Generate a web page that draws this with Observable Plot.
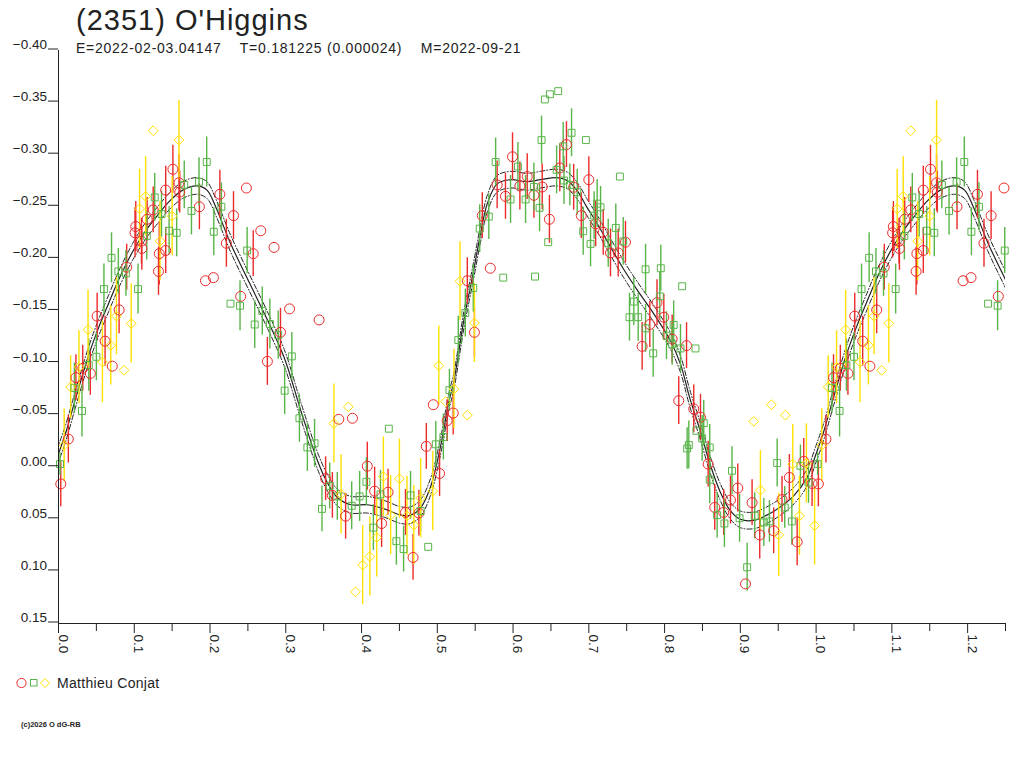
<!DOCTYPE html>
<html>
<head>
<meta charset="utf-8">
<script src="https://cdn.jsdelivr.net/npm/d3@7"></script>
<script src="https://cdn.jsdelivr.net/npm/@observablehq/plot@0.6"></script>
<style>
  html, body { margin: 0; padding: 0; background: #fff; }
  #wrap { position: relative; width: 1024px; height: 768px; overflow: hidden; font-family: "Liberation Sans", Arial, sans-serif; }
  #chart { position: absolute; left: 0; top: 0; }
  #overlay { position: absolute; left: 0; top: 0; pointer-events: none; }
</style>
</head>
<body>
<div id="wrap">
  <div id="chart"></div>
  <svg id="overlay" width="1024" height="768" font-family="Liberation Sans, Arial, sans-serif">
    <text x="76" y="30" font-size="29" fill="#222" letter-spacing="1">(2351) O'Higgins</text>
    <text x="76" y="53" font-size="14" fill="#222" letter-spacing="0.75" xml:space="preserve">E=2022-02-03.04147    T=0.181225 (0.000024)    M=2022-09-21</text>
    <circle cx="21.5" cy="683" r="4.6" fill="none" stroke="#ec2a2a" stroke-width="1"/>
    <rect x="30.5" y="679.5" width="6.5" height="6.5" fill="none" stroke="#58b548" stroke-width="1"/>
    <polygon points="45,678.5 49.5,683 45,687.5 40.5,683" fill="none" stroke="#ffe000" stroke-width="1"/>
    <text x="57" y="688" font-size="14" fill="#222" letter-spacing="0.3">Matthieu Conjat</text>
    <text x="21" y="727" font-size="7.5" fill="#222" font-weight="bold">(c)2026 O dG-RB</text>
  </svg>
</div>
<script>
// ---- axis ticks ----
const xMajorTicks = [0.0, 0.1, 0.2, 0.3, 0.4, 0.5, 0.6, 0.7, 0.8, 0.9, 1.0, 1.1, 1.2];
const xMinorTicks = [0.05, 0.15, 0.25, 0.35, 0.45, 0.55, 0.65, 0.75, 0.85, 0.95, 1.05, 1.15, 1.25];
const yTicks = [-0.40, -0.35, -0.30, -0.25, -0.20, -0.15, -0.10, -0.05, 0.00, 0.05, 0.10, 0.15];

// ---- observations: [phase, relative magnitude, error] ----
const redObs = [
  [0.003, 0.016, 0.022], [0.013, -0.027, 0.023], [0.023, -0.086, 0.022], [0.032, -0.095, 0.022],
  [0.042, -0.090, 0.021], [0.051, -0.145, 0.022], [0.0615, -0.121, 0.024], [0.071, -0.097, 0],
  [0.080, -0.151, 0.023], [0.090, -0.192, 0.022], [0.101, -0.225, 0.024], [0.102, -0.231, 0.024],
  [0.110, -0.210, 0.021], [0.1095, -0.217, 0.022], [0.117, -0.238, 0.021], [0.125, -0.247, 0.022],
  [0.133, -0.205, 0.030], [0.132, -0.188, 0.023], [0.1415, -0.208, 0.022], [0.1415, -0.266, 0.023],
  [0.151, -0.286, 0.023], [0.159, -0.273, 0.027], [0.160, -0.264, 0.020], [0.186, -0.250, 0.022],
  [0.194, -0.179, 0], [0.2045, -0.182, 0], [0.213, -0.262, 0.023], [0.231, -0.2415, 0.023],
  [0.2216, -0.215, 0.023], [0.248, -0.268, 0], [0.2405, -0.164, 0], [0.257, -0.205, 0.022],
  [0.267, -0.227, 0], [0.2845, -0.211, 0], [0.305, -0.152, 0], [0.293, -0.1295, 0.023],
  [0.2757, -0.1016, 0.023], [0.344, -0.1414, 0], [0.370, -0.046, 0], [0.388, -0.047, 0],
  [0.4947, -0.060, 0], [0.513, -0.0447, 0.020], [0.4855, -0.020, 0.022], [0.503, 0.006, 0.022],
  [0.3526, 0.011, 0.021], [0.3615, 0.027, 0.022], [0.379, 0.047, 0.022], [0.4076, -0.001, 0.023],
  [0.4173, 0.023, 0.023], [0.435, 0.024, 0.022], [0.4265, 0.054, 0.023], [0.468, 0.0866, 0.022],
  [0.458, 0.0434, 0.022], [0.4757, 0.044, 0.022],
  [0.521, -0.052, 0.021], [0.549, -0.1295, 0.024], [0.5396, -0.179, 0.022], [0.570, -0.191, 0],
  [0.5594, -0.2415, 0.022], [0.579, -0.271, 0.023], [0.590, -0.260, 0.022], [0.5993, -0.298, 0.023],
  [0.609, -0.270, 0.023], [0.6187, -0.279, 0.022], [0.6275, -0.261, 0.022], [0.6385, -0.269, 0.022],
  [0.648, -0.238, 0.023], [0.6617, -0.2873, 0.023], [0.6705, -0.3097, 0.022], [0.680, -0.2687, 0.022],
  [0.700, -0.276, 0.022], [0.690, -0.2415, 0.022], [0.709, -0.2336, 0.022], [0.719, -0.2255, 0.022],
  [0.7286, -0.2057, 0.023], [0.7388, -0.2057, 0.023], [0.7484, -0.216, 0.020],
  [0.7805, -0.137, 0.022], [0.7704, -0.116, 0.023], [0.790, -0.158, 0.022], [0.799, -0.144, 0.022],
  [0.810, -0.123, 0.023], [0.829, -0.1167, 0.022], [0.8187, -0.0639, 0.023], [0.8385, -0.056, 0.023],
  [0.8474, -0.048, 0.022], [0.8575, -0.003, 0.022], [0.8966, 0.020, 0.023], [0.8662, 0.0386, 0.022],
  [0.878, 0.0434, 0.022], [0.887, 0.0315, 0.023], [0.9068, 0.112, 0], [0.9155, 0.034, 0.022],
  [0.9256, 0.065, 0.023], [0.944, 0.061, 0.022], [0.955, 0.031, 0.022], [0.9647, 0.0098, 0.022],
  [0.9837, -0.0056, 0.022], [0.975, 0.0716, 0.023], [0.9947, 0.0156, 0.022]
];
const greenObs = [
  [0.002, -0.003, 0.011], [0.031, -0.054, 0.025], [0.021, -0.076, 0.024], [0.040, -0.098, 0.025],
  [0.050, -0.106, 0.023], [0.060, -0.171, 0.024], [0.070, -0.201, 0.024], [0.079, -0.188, 0.022],
  [0.089, -0.186, 0.022], [0.105, -0.171, 0.024], [0.1165, -0.222, 0.023], [0.127, -0.259, 0.023],
  [0.136, -0.243, 0.022], [0.146, -0.227, 0.023], [0.156, -0.225, 0.023], [0.166, -0.271, 0.023],
  [0.1755, -0.246, 0.023], [0.1855, -0.274, 0.023], [0.1956, -0.293, 0.024], [0.205, -0.226, 0.023],
  [0.215, -0.250, 0.023], [0.227, -0.157, 0], [0.2396, -0.155, 0.024], [0.249, -0.208, 0.022],
  [0.259, -0.137, 0.023],
  [0.269, -0.150, 0.023], [0.279, -0.1375, 0.024], [0.290, -0.127, 0.023], [0.308, -0.1064, 0.023],
  [0.2985, -0.0735, 0.023], [0.318, -0.047, 0.023], [0.3285, -0.019, 0.023], [0.338, -0.023, 0.023],
  [0.436, -0.037, 0], [0.516, -0.074, 0.020], [0.508, -0.029, 0.022], [0.498, -0.022, 0.022],
  [0.358, 0.018, 0.022], [0.368, 0.028, 0.023], [0.3478, 0.040, 0.022], [0.387, 0.037, 0.023],
  [0.3975, 0.028, 0.024], [0.4064, 0.014, 0.023], [0.425, 0.026, 0.023], [0.4156, 0.058, 0.022],
  [0.446, 0.071, 0.023], [0.4555, 0.0786, 0.022], [0.488, 0.0764, 0], [0.4647, 0.027, 0.023],
  [0.478, 0.042, 0.020],
  [0.5277, -0.122, 0.023], [0.537, -0.148, 0.023], [0.5475, -0.172, 0.023], [0.587, -0.182, 0],
  [0.629, -0.183, 0], [0.556, -0.229, 0.023], [0.568, -0.2406, 0.022], [0.577, -0.293, 0.023],
  [0.5967, -0.257, 0.023], [0.6064, -0.2886, 0.023], [0.6165, -0.257, 0.023], [0.6275, -0.269, 0.023],
  [0.635, -0.249, 0.023], [0.6376, -0.314, 0.023], [0.6464, -0.216, 0], [0.642, -0.353, 0],
  [0.6486, -0.358, 0], [0.6596, -0.361, 0], [0.6575, -0.2855, 0.023], [0.6662, -0.308, 0.023],
  [0.6772, -0.321, 0.023], [0.6672, -0.2752, 0.023], [0.675, -0.271, 0.020], [0.6847, -0.264, 0.022],
  [0.6961, -0.314, 0], [0.6926, -0.2265, 0.023], [0.7023, -0.2144, 0.022], [0.707, -0.2415, 0.023],
  [0.711, -0.253, 0.023], [0.7155, -0.2495, 0.020], [0.7256, -0.215, 0.023], [0.7356, -0.2297, 0.023],
  [0.741, -0.279, 0], [0.7454, -0.2168, 0.023], [0.7537, -0.144, 0.023],
  [0.7749, -0.190, 0.024], [0.795, -0.191, 0.022], [0.8232, -0.1737, 0], [0.7594, -0.159, 0.023],
  [0.7652, -0.144, 0.023], [0.7749, -0.1333, 0.023], [0.785, -0.1093, 0.023], [0.7937, -0.164, 0.023],
  [0.8025, -0.1263, 0.023], [0.812, -0.1366, 0.023], [0.810, -0.118, 0.020], [0.821, -0.114, 0.023],
  [0.8408, -0.114, 0], [0.8517, -0.0424, 0.022], [0.842, -0.035, 0], [0.8496, -0.0277, 0.022],
  [0.832, -0.0213, 0.023], [0.8298, -0.018, 0.020], [0.8596, -0.019, 0.022], [0.8596, 0.012, 0.023],
  [0.889, 0.0034, 0.023], [0.8694, 0.046, 0.022], [0.879, 0.054, 0.023], [0.899, 0.049, 0.023],
  [0.909, 0.096, 0.023], [0.919, 0.0466, 0.022], [0.931, 0.053, 0.023], [0.9384, 0.052, 0.020],
  [0.9586, 0.0386, 0.020], [0.9486, -0.004, 0.023], [0.9793, -0.0014, 0.020], [0.968, 0.052, 0.023],
  [0.990, 0.0146, 0.020]
];
const yellowObs = [
  [0.0075, -0.021, 0.035], [0.016, -0.077, 0.030], [0.027, -0.096, 0.035], [0.039, -0.132, 0.038],
  [0.058, -0.101, 0.039], [0.069, -0.117, 0.038], [0.0765, -0.145, 0.037], [0.0866, -0.093, 0],
  [0.096, -0.138, 0.038], [0.107, -0.248, 0.038], [0.115, -0.260, 0.038], [0.125, -0.323, 0],
  [0.134, -0.217, 0.038], [0.150, -0.241, 0.038], [0.159, -0.314, 0.038],
  [0.3826, -0.058, 0], [0.3636, -0.042, 0.038], [0.502, -0.0975, 0.038], [0.511, -0.063, 0],
  [0.494, 0.023, 0.038], [0.373, 0.026, 0.038], [0.4288, 0.009, 0.038], [0.450, 0.011, 0.038],
  [0.420, 0.0674, 0.038], [0.411, 0.0857, 0.038], [0.4015, 0.094, 0.038], [0.392, 0.1196, 0],
  [0.460, 0.0466, 0.038], [0.469, 0.0555, 0.038], [0.478, 0.0296, 0.038], [0.4384, 0.046, 0.038],
  [0.5396, -0.050, 0], [0.522, -0.075, 0.038], [0.549, -0.1385, 0.038], [0.530, -0.1785, 0.038],
  [0.9265, 0.022, 0.038], [0.9177, -0.044, 0], [0.941, -0.060, 0], [0.9595, -0.050, 0],
  [0.9507, 0.065, 0.040], [0.9692, -0.003, 0.038], [0.9872, -0.0037, 0.038], [0.978, 0.0466, 0.038],
  [0.998, 0.056, 0.038]
];

// ---- fitted light curve (phase, mag), one period ----
const fitCurve = [
  [0.000, -0.013], [0.010, -0.034], [0.023, -0.067], [0.040, -0.108], [0.053, -0.134],
  [0.066, -0.157], [0.080, -0.181], [0.098, -0.207], [0.115, -0.227], [0.132, -0.243],
  [0.146, -0.255], [0.164, -0.266], [0.183, -0.270], [0.196, -0.266], [0.208, -0.249],
  [0.227, -0.215], [0.252, -0.177], [0.276, -0.141], [0.298, -0.105], [0.320, -0.054],
  [0.342, -0.006], [0.355, 0.015], [0.368, 0.029], [0.386, 0.036], [0.408, 0.036],
  [0.430, 0.040], [0.452, 0.046], [0.465, 0.046], [0.478, 0.039], [0.491, 0.019],
  [0.504, -0.019], [0.515, -0.062], [0.522, -0.083], [0.535, -0.141], [0.548, -0.189],
  [0.557, -0.224], [0.566, -0.253], [0.579, -0.272], [0.597, -0.276], [0.619, -0.274],
  [0.636, -0.276], [0.658, -0.278], [0.672, -0.275], [0.685, -0.265], [0.698, -0.249],
  [0.711, -0.234], [0.729, -0.211], [0.746, -0.190], [0.764, -0.170], [0.786, -0.147],
  [0.808, -0.121], [0.821, -0.099], [0.833, -0.067], [0.847, -0.035], [0.860, -0.003],
  [0.873, 0.023], [0.887, 0.042], [0.900, 0.050], [0.918, 0.051], [0.935, 0.046],
  [0.953, 0.038], [0.971, 0.027], [0.988, 0.010]
];
const fitSigma = 0.008;   // half-width of the dash-dot envelope

const PHASE_MAX = 1.25;
const RED = "#ec2a2a", GREEN = "#58b548", YELLOW = "#ffe000", INK = "#222";

// phase-fold: repeat the beginning of the cycle after phase 1
function fold(series) {
  const rows = [];
  for (const [p, m, e] of series) {
    rows.push({phase: p, mag: m, err: e});
    if (p + 1 <= PHASE_MAX) rows.push({phase: p + 1, mag: m, err: e});
  }
  return rows;
}
const red = fold(redObs), green = fold(greenObs), yellow = fold(yellowObs);
const curve = fitCurve.map(([p, m]) => ({phase: p, mag: m}))
  .concat(fitCurve.filter(([p]) => p <= 0.28).map(([p, m]) => ({phase: p + 1, mag: m})))
  .concat(fitCurve.filter(([p]) => p >= 0.95).map(([p, m]) => ({phase: p - 1, mag: m})))
  .sort((a, b) => a.phase - b.phase);

const bars = (rows, color) => Plot.ruleX(rows.filter(d => d.err > 0), {
  x: "phase", y1: d => d.mag - d.err, y2: d => d.mag + d.err, stroke: color, strokeWidth: 1.4
});

const chart = Plot.plot({
  width: 1024,
  height: 768,
  marginLeft: 58,
  marginRight: 19,
  marginTop: 50,
  marginBottom: 145,
  style: {fontFamily: "Liberation Sans, Arial, sans-serif", fontSize: "13.5px", color: INK, background: "#fff"},
  x: {domain: [0, PHASE_MAX], label: null},
  y: {domain: [0.15, -0.40], label: null},
  marks: [
    // fit curve and its envelope
    Plot.line(curve, {x: "phase", y: d => d.mag - fitSigma, curve: "catmull-rom", stroke: INK, strokeWidth: 1, strokeDasharray: "5,2,1,2", clip: true}),
    Plot.line(curve, {x: "phase", y: d => d.mag + fitSigma, curve: "catmull-rom", stroke: INK, strokeWidth: 1, strokeDasharray: "5,2,1,2", clip: true}),
    Plot.line(curve, {x: "phase", y: "mag", curve: "catmull-rom", stroke: INK, strokeWidth: 1.2, clip: true}),
    // error bars
    bars(red, RED), bars(green, GREEN), bars(yellow, YELLOW),
    // markers
    Plot.dot(red, {x: "phase", y: "mag", r: 5, stroke: RED, fill: "none", strokeWidth: 1}),
    Plot.dot(green, {x: "phase", y: "mag", symbol: "square", r: 3.9, stroke: GREEN, fill: "none", strokeWidth: 1}),
    Plot.dot(yellow, {x: "phase", y: "mag", symbol: "diamond2", r: 4.4, stroke: YELLOW, fill: "none", strokeWidth: 1}),
    // axes
    Plot.ruleX([0], {stroke: INK}),
    Plot.ruleY([0.15], {stroke: INK}),
    Plot.axisY(yTicks, {anchor: "left", tickSize: 10, tickPadding: 1.5, lineAnchor: "bottom", dy: -1.5,
      tickFormat: d3.format(".2f"), stroke: INK, fill: INK, fontSize: 13.5}),
    Plot.axisX(xMinorTicks, {anchor: "bottom", tickSize: 8, tickFormat: () => "", stroke: INK}),
    Plot.axisX(xMajorTicks, {anchor: "bottom", tickSize: 10, tickPadding: 1, tickRotate: 90,
      textAnchor: "start", lineAnchor: "bottom", tickFormat: d3.format(".1f"), stroke: INK, fill: INK, fontSize: 13.5})
  ]
});
document.getElementById("chart").appendChild(chart);
</script>
</body>
</html>
